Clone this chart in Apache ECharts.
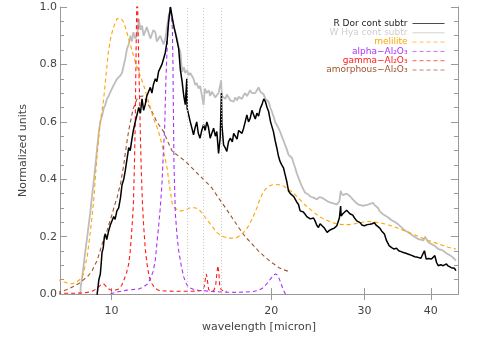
<!DOCTYPE html>
<html>
<head>
<meta charset="utf-8">
<script src="https://cdn.jsdelivr.net/npm/echarts@6/dist/echarts.min.js"></script>
<style>
  html, body { margin: 0; padding: 0; background: #fff; }
  #grafico { width: 479px; height: 338px; }
</style>
</head>
<body>
<div id="grafico"></div>
<script>
// ticks & marks
var xTicks = [10, 20, 30, 40];
var dottedLines = [13.87, 14.92, 16.13];

// R Dor cont subtr
var rDor = [
  [9.38,-0.02],[9.40,0.0],[9.47,0.05],[9.53,0.07],[9.57,0.11],[9.60,0.145],[9.65,0.16],[9.70,0.20],[9.74,0.21],[9.80,0.19],
  [9.88,0.22],[9.95,0.24],[10.03,0.245],[10.10,0.27],[10.16,0.26],[10.24,0.29],[10.32,0.30],[10.40,0.335],[10.47,0.38],[10.55,0.40],
  [10.62,0.43],[10.70,0.47],[10.78,0.51],[10.85,0.50],[10.93,0.54],[11.00,0.57],[11.09,0.60],[11.16,0.62],[11.26,0.65],[11.34,0.63],
  [11.42,0.68],[11.50,0.64],[11.58,0.66],[11.66,0.69],[11.75,0.69],[11.84,0.72],[11.92,0.70],[12.0,0.73],[12.10,0.75],[12.18,0.74],
  [12.27,0.775],[12.36,0.77],[12.45,0.80],[12.54,0.795],[12.63,0.84],[12.73,0.88],[12.82,0.95],[12.92,1.0],[13.03,0.96],[13.12,0.93],
  [13.20,0.91],[13.30,0.88],[13.39,0.855],[13.49,0.78],[13.59,0.74],[13.69,0.69],[13.78,0.66],[13.87,0.75],[13.89,0.647],[13.98,0.625],
  [14.08,0.60],[14.18,0.578],[14.28,0.555],[14.38,0.58],[14.48,0.60],[14.58,0.56],[14.69,0.543],[14.80,0.57],[14.92,0.59],[15.02,0.57],
  [15.13,0.60],[15.24,0.58],[15.35,0.543],[15.46,0.56],[15.58,0.578],[15.70,0.55],[15.80,0.566],[15.92,0.49],[16.03,0.543],[16.12,0.70],
  [16.15,0.59],[16.27,0.52],[16.38,0.51],[16.50,0.497],[16.62,0.53],[16.75,0.543],[16.9,0.53],[17.0,0.56],[17.12,0.555],[17.25,0.54],
  [17.37,0.57],[17.5,0.566],[17.62,0.56],[17.75,0.578],[17.87,0.60],[18.0,0.624],[18.13,0.60],[18.26,0.612],[18.4,0.64],[18.53,0.636],
  [18.67,0.61],[18.8,0.63],[18.94,0.62],[19.08,0.647],[19.22,0.66],[19.37,0.68],[19.51,0.67],[19.65,0.65],[19.78,0.636],[19.95,0.60],
  [20.2,0.566],[20.35,0.535],[20.5,0.509],[20.65,0.48],[20.78,0.463],[20.94,0.45],[21.1,0.44],[21.25,0.416],[21.4,0.393],[21.57,0.359],
  [21.74,0.35],[21.9,0.347],[22.05,0.34],[22.2,0.336],[22.36,0.32],[22.52,0.312],[22.68,0.29],[22.85,0.284],[23.0,0.286],[23.18,0.278],
  [23.35,0.27],[23.52,0.266],[23.7,0.262],[23.87,0.26],[24.04,0.265],[24.2,0.255],[24.38,0.24],[24.56,0.232],[24.73,0.245],[24.9,0.243],
  [25.2,0.23],[25.5,0.215],[25.75,0.222],[26.0,0.226],[26.3,0.23],[26.6,0.238],[26.9,0.266],[27.04,0.307],[27.1,0.272],[27.3,0.28],
  [27.5,0.284],[27.75,0.292],[27.97,0.29],[28.15,0.28],[28.3,0.284],[28.5,0.275],[28.7,0.266],[29.0,0.255],[29.4,0.249],[29.7,0.24],
  [30.0,0.238],[30.35,0.242],[30.7,0.243],[31.0,0.245],[31.3,0.249],[31.55,0.24],[31.8,0.243],[32.05,0.23],[32.3,0.220],[32.5,0.215],
  [32.7,0.209],[33.0,0.186],[33.2,0.18],[33.4,0.168],[33.75,0.162],[34.1,0.157],[34.45,0.16],[34.8,0.151],[35.15,0.148],[35.5,0.145],
  [35.9,0.142],[36.3,0.139],[36.8,0.135],[37.3,0.130],[37.8,0.128],[38.3,0.125],[38.6,0.13],[38.9,0.151],[39.2,0.122],[39.6,0.124],
  [40.1,0.122],[40.4,0.118],[40.7,0.134],[41.0,0.11],[41.3,0.099],[41.75,0.102],[42.2,0.099],[42.5,0.097],[42.8,0.105],[43.1,0.098],
  [43.4,0.093],[43.7,0.092],[44.0,0.088],[44.3,0.09],[44.6,0.082]
];

// W Hya cont subtr
var wHya = [
  [8.74,0],[8.75,0.024],[8.81,0.06],[8.87,0.105],[8.93,0.15],[9.0,0.197],[9.06,0.24],[9.13,0.29],[9.20,0.347],[9.27,0.40],
  [9.33,0.45],[9.40,0.509],[9.47,0.566],[9.53,0.60],[9.60,0.62],[9.67,0.647],[9.74,0.66],[9.81,0.68],[9.88,0.69],[9.96,0.705],
  [10.03,0.71],[10.1,0.728],[10.18,0.74],[10.25,0.75],[10.32,0.745],[10.4,0.762],[10.47,0.77],[10.55,0.797],[10.62,0.82],[10.7,0.855],
  [10.78,0.87],[10.86,0.90],[10.93,0.88],[11.0,0.912],[11.09,0.89],[11.18,0.90],[11.26,0.958],[11.34,0.92],[11.42,0.935],[11.5,0.90],
  [11.58,0.90],[11.66,0.93],[11.75,0.924],[11.84,0.89],[11.92,0.889],[12.0,0.92],[12.1,0.912],[12.18,0.88],[12.27,0.878],[12.36,0.90],
  [12.45,0.90],[12.54,0.87],[12.63,0.889],[12.73,0.93],[12.82,0.97],[12.92,0.99],[13.0,0.96],[13.1,0.935],[13.2,0.91],[13.3,0.889],
  [13.39,0.86],[13.49,0.843],[13.59,0.774],[13.69,0.79],[13.78,0.77],[13.89,0.78],[13.98,0.762],[14.08,0.77],[14.18,0.774],[14.28,0.75],
  [14.39,0.728],[14.48,0.735],[14.6,0.716],[14.7,0.725],[14.8,0.722],[14.92,0.658],[15.0,0.716],[15.13,0.70],[15.25,0.71],[15.35,0.69],
  [15.46,0.705],[15.58,0.699],[15.7,0.685],[15.8,0.693],[15.92,0.70],[16.1,0.745],[16.15,0.69],[16.27,0.687],[16.4,0.68],[16.5,0.695],
  [16.63,0.693],[16.75,0.675],[16.87,0.68],[17.0,0.67],[17.12,0.685],[17.25,0.675],[17.37,0.687],[17.5,0.69],[17.62,0.68],[17.75,0.693],
  [17.87,0.70],[18.0,0.69],[18.13,0.699],[18.26,0.71],[18.4,0.70],[18.53,0.705],[18.67,0.70],[18.8,0.71],[18.94,0.72],[19.08,0.705],
  [19.22,0.699],[19.37,0.695],[19.51,0.68],[19.65,0.675],[19.78,0.67],[19.92,0.65],[20.06,0.636],[20.2,0.62],[20.35,0.60],[20.5,0.589],
  [20.65,0.578],[20.8,0.565],[20.94,0.55],[21.1,0.535],[21.25,0.52],[21.4,0.505],[21.57,0.485],[21.74,0.48],[21.9,0.474],[22.05,0.455],
  [22.2,0.44],[22.36,0.42],[22.52,0.405],[22.68,0.39],[22.85,0.376],[23.0,0.365],[23.18,0.353],[23.35,0.35],[23.52,0.347],[23.7,0.34],
  [23.87,0.336],[24.1,0.335],[24.4,0.33],[24.65,0.338],[24.9,0.336],[25.2,0.33],[25.5,0.324],[25.75,0.32],[26.0,0.318],[26.3,0.315],
  [26.6,0.312],[26.9,0.324],[27.05,0.36],[27.1,0.353],[27.3,0.345],[27.5,0.341],[27.75,0.35],[27.97,0.347],[28.2,0.34],[28.5,0.33],
  [28.85,0.32],[29.2,0.312],[29.5,0.31],[29.8,0.307],[30.15,0.31],[30.5,0.312],[30.8,0.315],[31.1,0.318],[31.35,0.31],[31.6,0.307],
  [31.8,0.30],[32.0,0.29],[32.25,0.285],[32.5,0.278],[32.9,0.272],[33.3,0.266],[33.6,0.26],[33.9,0.255],[34.3,0.25],[34.7,0.243],
  [35.1,0.235],[35.5,0.226],[35.9,0.22],[36.3,0.215],[36.6,0.21],[37.0,0.203],[37.45,0.197],[37.9,0.191],[38.3,0.19],[38.7,0.186],
  [39.0,0.20],[39.2,0.197],[39.6,0.18],[40.1,0.174],[40.4,0.17],[40.7,0.168],[41.0,0.162],[41.3,0.157],[41.75,0.155],[42.2,0.151],
  [42.6,0.145],[43.1,0.139],[43.5,0.135],[44.0,0.128],[44.3,0.122],[44.6,0.117]
];

// melilite
var melilite = [
  [7.9,0.05],[8.0,0.048],[8.15,0.042],[8.3,0.038],[8.45,0.036],[8.6,0.042],[8.75,0.053],[8.82,0.062],[8.9,0.09],[9.0,0.128],
  [9.06,0.17],[9.13,0.22],[9.2,0.275],[9.27,0.336],[9.33,0.41],[9.40,0.485],[9.47,0.55],[9.53,0.60],[9.60,0.64],[9.67,0.68],
  [9.74,0.74],[9.81,0.797],[9.88,0.85],[9.96,0.889],[10.07,0.925],[10.18,0.947],[10.25,0.96],[10.32,0.964],[10.44,0.958],[10.55,0.947],
  [10.66,0.92],[10.78,0.889],[10.89,0.86],[11.0,0.831],[11.13,0.80],[11.26,0.774],[11.38,0.75],[11.5,0.728],[11.62,0.70],[11.75,0.67],
  [11.88,0.64],[12.0,0.612],[12.14,0.59],[12.27,0.566],[12.36,0.545],[12.45,0.52],[12.6,0.48],[12.73,0.44],[12.88,0.37],[13.03,0.312],
  [13.15,0.30],[13.3,0.295],[13.45,0.29],[13.59,0.29],[13.75,0.293],[13.89,0.295],[14.03,0.30],[14.18,0.301],[14.33,0.301],[14.48,0.299],
  [14.64,0.293],[14.8,0.284],[14.96,0.272],[15.13,0.26],[15.3,0.248],[15.46,0.238],[15.63,0.226],[15.8,0.215],[15.97,0.208],[16.15,0.203],
  [16.32,0.199],[16.5,0.197],[16.68,0.195],[16.87,0.195],[17.05,0.196],[17.25,0.197],[17.43,0.203],[17.62,0.209],[17.8,0.218],[18.0,0.228],
  [18.2,0.243],[18.4,0.26],[18.6,0.28],[18.8,0.30],[19.0,0.325],[19.22,0.347],[19.5,0.365],[19.78,0.376],[20.05,0.38],[20.35,0.382],
  [20.65,0.381],[20.94,0.38],[21.2,0.374],[21.5,0.366],[21.9,0.356],[22.2,0.346],[22.52,0.334],[23.0,0.316],[23.52,0.30],[24.0,0.287],
  [24.56,0.272],[25.1,0.262],[25.65,0.255],[26.2,0.248],[26.8,0.243],[27.4,0.242],[27.97,0.242],[28.6,0.244],[29.2,0.247],[29.85,0.251],
  [30.5,0.253],[31.2,0.251],[31.85,0.249],[32.5,0.246],[33.26,0.241],[34.0,0.235],[34.7,0.229],[35.5,0.222],[36.27,0.215],[37.0,0.209],
  [37.88,0.201],[38.7,0.194],[39.55,0.187],[40.4,0.181],[41.3,0.175],[42.2,0.169],[43.1,0.163],[44.0,0.159],[44.6,0.157]
];

// alpha-Al2O3
var alphaAl = [
  [9.96,0.001],[10.3,0.008],[10.62,0.013],[11.0,0.016],[11.26,0.018],[11.5,0.025],[11.7,0.036],[11.85,0.055],[12.0,0.082],[12.1,0.12],
  [12.18,0.174],[12.27,0.235],[12.36,0.30],[12.45,0.38],[12.52,0.48],[12.6,0.58],[12.67,0.75],[12.78,0.93],[12.9,1.0],[12.96,0.99],
  [13.03,0.92],[13.06,0.80],[13.09,0.62],[13.12,0.45],[13.2,0.278],[13.3,0.2],[13.39,0.151],[13.55,0.095],[13.69,0.059],[13.85,0.035],
  [13.98,0.024],[14.3,0.016],[14.6,0.013],[15.5,0.009],[16.4,0.007],[17.2,0.006],[17.87,0.007],[18.5,0.009],[18.94,0.013],[19.25,0.02],
  [19.5,0.03],[19.75,0.042],[19.95,0.053],[20.2,0.066],[20.4,0.07],[20.6,0.065],[20.78,0.047],[20.95,0.028],[21.1,0.013],[21.25,0.003],
  [21.4,-0.01]
];

// gamma-Al2O3
var gammaAl = [
  [7.9,0.003],[8.2,0.003],[8.5,0.003],[8.8,0.004],[9.0,0.006],[9.2,0.01],[9.4,0.02],[9.55,0.032],[9.67,0.036],[9.8,0.025],
  [9.92,0.016],[10.03,0.013],[10.18,0.014],[10.32,0.018],[10.45,0.03],[10.55,0.047],[10.68,0.075],[10.78,0.105],[10.85,0.15],[10.9,0.197],
  [10.95,0.25],[11.0,0.312],[11.05,0.45],[11.09,0.6],[11.13,0.85],[11.18,1.1],[11.22,0.95],[11.26,0.80],[11.30,0.68],[11.34,0.55],
  [11.38,0.44],[11.44,0.32],[11.5,0.24],[11.58,0.16],[11.66,0.11],[11.78,0.06],[11.92,0.036],[12.1,0.02],[12.27,0.013],[12.6,0.011],
  [13.03,0.010],[13.6,0.010],[14.18,0.010],[14.6,0.011],[14.85,0.013],[14.98,0.03],[15.05,0.06],[15.1,0.07],[15.16,0.05],[15.25,0.015],
  [15.45,0.012],[15.6,0.013],[15.72,0.03],[15.8,0.07],[15.87,0.099],[15.93,0.08],[16.0,0.03],[16.1,0.015],[16.3,0.01],[16.5,0.01]
];

// amorphous-Al2O3
var amorphAl = [
  [7.9,0.006],[8.1,0.01],[8.3,0.018],[8.5,0.027],[8.7,0.038],[8.82,0.047],[9.0,0.06],[9.1,0.07],[9.2,0.082],[9.3,0.10],
  [9.40,0.117],[9.5,0.145],[9.6,0.174],[9.7,0.195],[9.81,0.22],[9.92,0.25],[10.03,0.278],[10.14,0.31],[10.25,0.336],[10.32,0.36],
  [10.4,0.382],[10.47,0.415],[10.55,0.45],[10.62,0.49],[10.7,0.532],[10.78,0.57],[10.86,0.60],[10.93,0.625],[11.0,0.647],[11.09,0.665],
  [11.18,0.68],[11.26,0.688],[11.34,0.693],[11.46,0.69],[11.58,0.68],[11.7,0.665],[11.84,0.647],[12.0,0.625],[12.18,0.60],[12.36,0.583],
  [12.54,0.566],[12.78,0.53],[13.03,0.497],[13.4,0.48],[13.78,0.463],[14.18,0.44],[14.6,0.416],[15.0,0.395],[15.46,0.37],[15.92,0.335],
  [16.4,0.301],[16.9,0.265],[17.37,0.232],[17.87,0.20],[18.4,0.175],[18.94,0.15],[19.5,0.128],[20.06,0.11],[20.65,0.093],[21.1,0.085],
  [21.5,0.08]
];

var fuente = "DejaVu Sans";
var gris = "#999";

function ejeX(pos, conEtiquetas) {
  return {
    type: "log", logBase: 10, min: 8, max: 45, position: pos,
    axisLine: { lineStyle: { color: gris } },
    axisTick: { show: true, inside: true, length: 6, customValues: xTicks, lineStyle: { color: gris } },
    axisLabel: conEtiquetas ? { show: true, customValues: xTicks, margin: 12, color: "#444", fontSize: 11, fontFamily: fuente } : { show: false },
    minorTick: { show: false },
    splitLine: { show: false },
    name: conEtiquetas ? "wavelength [micron]" : "",
    nameLocation: "middle", nameGap: 25,
    nameTextStyle: { color: "#444", fontSize: 11, fontFamily: fuente }
  };
}

function ejeY(pos, conEtiquetas) {
  return {
    type: "value", min: 0, max: 1, interval: 0.2, position: pos,
    axisLine: { show: true, lineStyle: { color: gris } },
    axisTick: { show: true, inside: true, length: 7, lineStyle: { color: gris } },
    minorTick: { show: true, splitNumber: 4, length: 4, lineStyle: { color: gris } },
    axisLabel: conEtiquetas ? { show: true, margin: 3, color: "#444", fontSize: 11, fontFamily: fuente, formatter: function (v) { return v.toFixed(1); } } : { show: false },
    splitLine: { show: false },
    name: conEtiquetas ? "Normalized units" : "",
    nameLocation: "middle", nameGap: 23,
    nameTextStyle: { color: "#444", fontSize: 11, fontFamily: fuente }
  };
}

function serie(nombre, datos, color, ancho, tipo, z) {
  return {
    name: nombre, type: "line", data: datos, showSymbol: false, symbol: "none",
    lineStyle: { color: color, width: ancho, type: tipo },
    itemStyle: { color: color },
    z: z, silent: true
  };
}

var series = [
  serie("W Hya cont subtr", wHya, "#bdbdbd", 1.8, "solid", 2),
  serie("amorphous\u2212Al\u2082O\u2083", amorphAl, "#a0522d", 1.1, [4, 3], 3),
  serie("melilite", melilite, "#ffa500", 1.1, [4, 3], 3),
  serie("gamma\u2212Al\u2082O\u2083", gammaAl, "#ff1a1a", 1.1, [4, 3], 3),
  serie("alpha\u2212Al\u2082O\u2083", alphaAl, "#a733ff", 1.1, [4, 3], 3),
  serie("R Dor cont subtr", rDor, "#000000", 1.5, "solid", 4)
];

// lineas punteadas verticales
series.push({
  type: "line", data: [], silent: true,
  markLine: {
    silent: true, symbol: ["none", "none"], label: { show: false },
    lineStyle: { color: "#c8c8c8", type: [1, 2], width: 1 },
    data: dottedLines.map(function (v) { return { xAxis: v }; })
  }
});

var leyenda = [
  { name: "R Dor cont subtr", color: "#222" },
  { name: "W Hya cont subtr", color: "#cfcfcf" },
  { name: "melilite", color: "#ffa500" },
  { name: "alpha\u2212Al\u2082O\u2083", color: "#a733ff" },
  { name: "gamma\u2212Al\u2082O\u2083", color: "#ff1a1a" },
  { name: "amorphous\u2212Al\u2082O\u2083", color: "#a0522d" }
];

echarts.init(document.querySelector("#grafico")).setOption({
  animation: false,
  backgroundColor: "#fff",
  grid: { left: 60, right: 21, top: 7, bottom: 41 },
  legend: {
    orient: "vertical", align: "right", right: 34, top: 19, padding: 0,
    itemWidth: 32, itemHeight: 8, itemGap: 0.3,
    itemStyle: { opacity: 0 },
    lineStyle: { width: 1, opacity: 0.7 },
    textStyle: { fontSize: 9, fontFamily: fuente, lineHeight: 8 },
    data: leyenda.map(function (l) { return { name: l.name, textStyle: { color: l.color } }; })
  },
  xAxis: [ejeX("bottom", true), ejeX("top", false)],
  yAxis: [ejeY("left", true), ejeY("right", false)],
  series: series
});
</script>
</body>
</html>
